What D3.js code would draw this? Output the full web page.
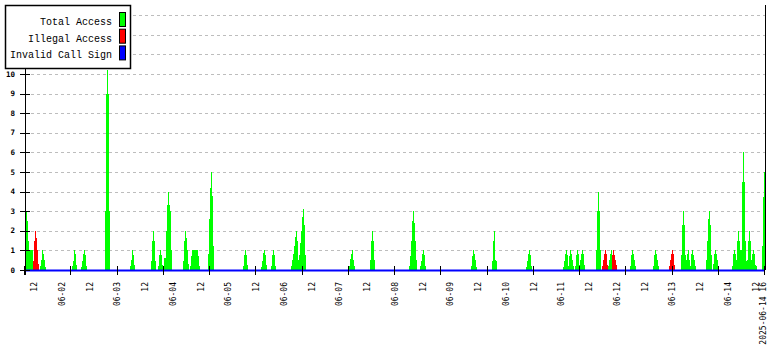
<!DOCTYPE html>
<html>
<head>
<meta charset="utf-8">
<script src="https://d3js.org/d3.v7.min.js"></script>
<style>
  body { margin: 0; background: #fff; }
  svg { display: block; }
</style>
</head>
<body>
<svg id="chart"></svg>
<script>
// ************ data ************
// one consolidated row per step, 740 rows between start and end
const startTime = new Date(2025, 5, 1, 8, 0)
const endTime = new Date(2025, 5, 14, 16, 0)
const rowCount = 740

const seriesNames = ["Total Access", "Illegal Access", "Invalid Call Sign"]
const seriesColors = ["#00ff00", "#ff0000", "#0000ff"]

// bursts of non-zero rows: first row index + the values that follow
const totalStart = [1, 15, 47, 56, 80, 105, 126, 133, 139, 158, 165, 183, 218, 236, 246, 266,
  324, 345, 384, 395, 446, 467, 501, 538, 571, 577, 605, 628, 644, 656, 681, 707, 737]
const totalValues = [
  [3, 2.5, 1.5, 1, 1, 1, 1, 0.45, 1.5, 2, 1.65, 1, 0.3],
  [0.2, 0.5, 1, 0.8, 0.5, 0.17],
  [0.2, 0.45, 1, 0.8, 0.25],
  [0.15, 0.45, 0.8, 1, 0.75, 0.2],
  [3, 9, 10.2, 9, 3],
  [0.2, 0.5, 1, 0.75, 0.25],
  [0.45, 1.5, 2, 1.5, 0.45],
  [0.2, 0.75, 1, 0.75, 0.25],
  [0.6, 0.6, 2, 3.3, 4, 3.3, 3, 1],
  [0.45, 1.5, 2, 1.65, 1, 0.3],
  [0.2, 0.7, 1, 1, 1, 1, 1, 1, 0.7, 0.2],
  [0.8, 2.6, 4.2, 5, 3.8, 1.2],
  [0.2, 0.75, 1, 0.75, 0.25],
  [0.15, 0.45, 0.85, 1, 0.75, 0.25],
  [0.2, 0.75, 1, 0.75, 0.2],
  [0.2, 0.5, 0.8, 1.2, 1.7, 2, 1.5, 0.5, 0.75, 1.4, 2, 2.7, 3.1, 2.3, 0.75],
  [0.2, 0.55, 0.8, 1, 0.5, 0.2],
  [0.5, 1.5, 2, 1.5, 0.5],
  [0.2, 0.7, 1.5, 2.5, 3, 2.4, 1.5, 0.5],
  [0.2, 0.45, 0.8, 1, 0.75, 0.2],
  [0.2, 0.7, 1, 0.8, 0.5, 0.15],
  [0.45, 1.5, 2, 0.5, 0.45],
  [0.15, 0.45, 0.8, 1, 0.75, 0.2],
  [0.15, 0.45, 0.8, 1, 0.75, 0.2, 0.7, 1, 0.8, 0.5, 0.2, 0, 0.2, 0.75, 1, 0.8, 0.25, 0.5, 0.8, 1, 0.8, 0.25],
  [1, 3, 4, 3, 1],
  [0.2, 0.5, 0.8, 1, 0.8, 0.25, 0.2, 0.5, 0.8, 1, 0.75, 1, 0.75, 0.5, 0.25],
  [0.2, 0.75, 1, 0.8, 0.5, 0.2],
  [0.2, 0.75, 1, 0.8, 0.5, 0.2],
  [0.2, 0.5, 0.8, 1, 0.8, 0.25],
  [0.75, 2.3, 3, 2.3, 0.75, 0.5, 0.8, 1, 0.5, 0.2, 0.8, 1, 0.75, 0.5, 0.2],
  [0.5, 1.5, 2.6, 3, 2.3, 0.75, 0, 0.3, 0.8, 1, 0.8, 0.5, 0.2],
  [0.2, 0.8, 1, 0.8, 0.5, 1.5, 2, 1.5, 1, 1, 4.5, 6, 4.5, 1.5, 0.45, 0.5, 1.5, 2, 1.5, 0.5, 0.8, 1, 0.8, 0.25, 0.2],
  [1.2, 3.7, 5]
]

const illegalStart = [8, 577, 587, 644]
const illegalValues = [
  [0.45, 1.5, 2, 1.65, 1, 0.3],
  [0.2, 0.5, 0.8, 1, 0.8, 0.25],
  [0.75, 1, 0.75, 0.5, 0.25],
  [0.2, 0.5, 0.8, 1, 0.8, 0.25]
]

// no invalid call signs in the period
const invalidStart = []
const invalidValues = []

const gridValues = d3.range(1, 14)
const yTickValues = d3.range(0, 11)
const xTickHours = 20
const endLabel = "2025-06-14 16"

// ************ layout ************
const width = 780
const height = 350
const plot = { left: 25, right: 765, top: 5, bottom: 270 }

const svg = d3.select("#chart")
  .attr("width", width)
  .attr("height", height)

const x = d3.scaleTime()
  .domain([startTime, endTime])
  .range([plot.left, plot.right])

const y = d3.scaleLinear()
  .domain([0, 13.5])
  .range([plot.bottom, plot.bottom - 13.5 * 19.6])

// expand the bursts into full rows
function expand(starts, values) {
  const out = new Array(rowCount).fill(0)
  starts.forEach(function(s, i) {
    values[i].forEach(function(v, j) { out[s + j] = v })
  })
  return out
}
const total = expand(totalStart, totalValues)
const illegal = expand(illegalStart, illegalValues)
const invalid = expand(invalidStart, invalidValues)

const stepMs = (endTime - startTime) / rowCount
const rows = d3.range(rowCount + 1).map(function(i) {
  const k = Math.min(i, rowCount - 1)
  return {
    t: new Date(+startTime + i * stepMs),
    total: total[k],
    illegal: illegal[k],
    invalid: invalid[k]
  }
})

// grid lines
svg.append("g")
  .selectAll("line")
  .data(gridValues)
  .enter()
  .append("line")
  .attr("x1", plot.left)
  .attr("x2", plot.right)
  .attr("y1", function(d) { return Math.round(y(d)) + 0.5 })
  .attr("y2", function(d) { return Math.round(y(d)) + 0.5 })
  .attr("stroke", "#bdbdbd")
  .attr("stroke-dasharray", "3,3")

// areas
function areaFor(key) {
  return d3.area()
    .x(function(d) { return x(d.t) })
    .y0(y(0))
    .y1(function(d) { return y(d[key]) })
    .curve(d3.curveStepAfter)
}

svg.append("path")
  .datum(rows)
  .attr("d", areaFor("total"))
  .attr("fill", seriesColors[0])
  .attr("shape-rendering", "crispEdges")

svg.append("path")
  .datum(rows)
  .attr("d", areaFor("illegal"))
  .attr("fill", seriesColors[1])
  .attr("shape-rendering", "crispEdges")

// invalid call sign as a line
svg.append("path")
  .datum(rows)
  .attr("d", d3.line()
    .x(function(d) { return x(d.t) })
    .y(function(d) { return y(d.invalid) + 0.5 })
    .curve(d3.curveStepAfter))
  .attr("fill", "none")
  .attr("stroke", seriesColors[2])
  .attr("stroke-width", 2)

// y axis line + right border
svg.append("line")
  .attr("x1", plot.left + 0.5).attr("x2", plot.left + 0.5)
  .attr("y1", plot.top).attr("y2", plot.bottom + 5)
  .attr("stroke", "#000")
svg.append("line")
  .attr("x1", plot.right + 0.5).attr("x2", plot.right + 0.5)
  .attr("y1", plot.top).attr("y2", plot.bottom)
  .attr("stroke", "#000")

// y ticks + labels
const yTicks = svg.append("g")
yTicks.selectAll("line")
  .data(yTickValues)
  .enter()
  .append("line")
  .attr("x1", 20)
  .attr("x2", 30)
  .attr("y1", function(d) { return Math.round(y(d)) + 0.5 })
  .attr("y2", function(d) { return Math.round(y(d)) + 0.5 })
  .attr("stroke", "#000")
yTicks.selectAll("text")
  .data(yTickValues)
  .enter()
  .append("text")
  .attr("x", 15)
  .attr("y", function(d) { return y(d) })
  .attr("dy", "0.35em")
  .attr("text-anchor", "end")
  .style("font-family", "DejaVu Sans Mono")
  .style("font-size", "7.5px")
  .style("font-weight", "bold")
  .text(function(d) { return d })

// x ticks every 20 hours from the start
const xTickTimes = d3.range(0, (endTime - startTime) / 3600e3 / xTickHours + 1)
  .map(function(k) { return new Date(+startTime + k * xTickHours * 3600e3) })
svg.append("g")
  .selectAll("line")
  .data(xTickTimes)
  .enter()
  .append("line")
  .attr("x1", function(d) { return Math.round(x(d)) - 0.5 })
  .attr("x2", function(d) { return Math.round(x(d)) - 0.5 })
  .attr("y1", plot.bottom - 4)
  .attr("y2", plot.bottom + 5)
  .attr("stroke", "#000")

// x labels: noon and midnight
const labelTimes = d3.timeHour.every(12).range(startTime, endTime)
const fmtDay = d3.timeFormat("%m-%d")
const xLabels = labelTimes.map(function(d) {
  return { t: d, text: d.getHours() === 12 ? "12" : fmtDay(d) }
})
xLabels.push({ t: endTime, text: endLabel })

svg.append("g")
  .selectAll("text")
  .data(xLabels)
  .enter()
  .append("text")
  .attr("transform", function(d) {
    return "translate(" + (x(d.t) - (d.t === endTime ? 2 : 0)) + "," + 282 + ") rotate(-90)"
  })
  .attr("dy", "0.35em")
  .attr("text-anchor", "end")
  .style("font-family", "DejaVu Sans Mono")
  .style("font-size", "8px")
  .text(function(d) { return d.text })

// legend
const legend = svg.append("g")
legend.append("rect")
  .attr("x", 5.5).attr("y", 5.5)
  .attr("width", 125).attr("height", 63)
  .attr("fill", "#fff")
  .attr("stroke", "#000")
  .attr("stroke-width", 1.5)

const legendItems = legend.selectAll(".legend")
  .data(seriesNames)
  .enter()
  .append("g")
  .attr("class", "legend")
  .attr("transform", function(d, i) { return "translate(0," + (i * 16.7) + ")" })

legendItems.append("rect")
  .attr("x", 119.5).attr("y", 12.5)
  .attr("width", 6).attr("height", 14)
  .attr("fill", function(d, i) { return seriesColors[i] })
  .attr("stroke", "#000")

legendItems.append("text")
  .attr("x", 112)
  .attr("y", 25)
  .attr("text-anchor", "end")
  .style("font-family", "Liberation Mono")
  .style("font-size", "10px")
  .text(function(d) { return d })
</script>
</body>
</html>
